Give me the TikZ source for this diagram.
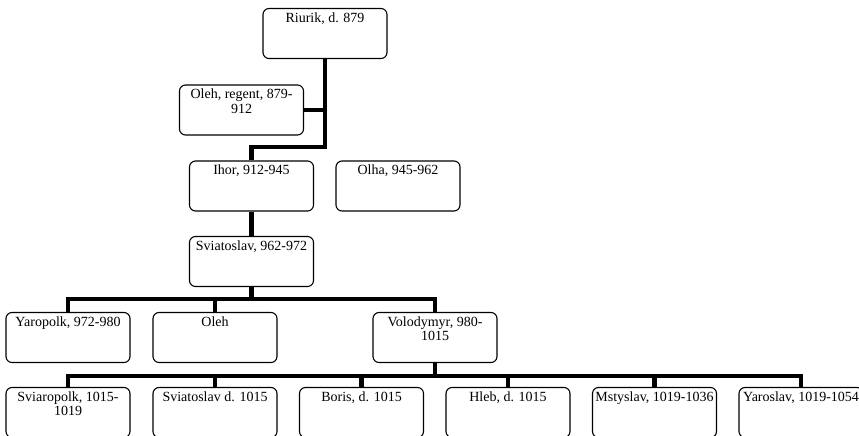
\documentclass[tikz,border=0pt]{standalone}
\usepackage{fontspec}
\setmainfont{Liberation Serif}
\begin{document}
\begin{tikzpicture}[x=1pt,y=-1pt,
  box/.style={draw, line width=1.1pt, rounded corners=6pt, inner sep=0pt},
  conn/.style={line width=4.5pt, line join=miter}]
\newcommand{\bx}[1]{\parbox[c][50pt][t]{124pt}{\centering\fontsize{14}{14.5}\selectfont\vspace*{3.5pt}\strut#1}}
\useasboundingbox (0,0) rectangle (859,436);
\node[box] (riurik) at (325,33.5) {\bx{Riurik, d. 879}};
\node[box] (olehr) at (241.5,110) {\bx{Oleh, regent, 879-\\912}};
\node[box] (ihor) at (251.5,186) {\bx{Ihor, 912-945}};
\node[box] (olha) at (398,186) {\bx{Olha, 945-962}};
\node[box] (sviat) at (251.5,261.5) {\bx{Sviatoslav, 962-972}};
\node[box] (yaro) at (68,337.5) {\bx{Yaropolk, 972-980}};
\node[box] (oleh) at (215,337.5) {\bx{Oleh}};
\node[box] (vol) at (435,337.5) {\bx{Volodymyr, 980-\\1015}};
\node[box] (sviar) at (68,412.5) {\bx{Sviaropolk, 1015-\\1019}};
\node[box] (sviad) at (215,412.5) {\bx{Sviatoslav d. 1015}};
\node[box] (boris) at (361.5,412.5) {\bx{Boris, d. 1015}};
\node[box] (hleb) at (508,412.5) {\bx{Hleb, d. 1015}};
\node[box] (msty) at (654.5,412.5) {\bx{Mstyslav, 1019-1036}};
\node[box] (yaros) at (801,412.5) {\bx{Yaroslav, 1019-1054}};
\coordinate (bus0) at (325,147);
\coordinate (bus1) at (0,299);
\coordinate (bus2) at (0,376);
\draw[conn] (riurik.south) -- (bus0) -| (ihor.north);
\draw[conn] (olehr.east) -- (olehr.east -| riurik.south);
\draw[conn] (ihor.south) -- (sviat.north);
\draw[conn] (yaro.north) -- (yaro.north |- bus1) -- (vol.north |- bus1) -- (vol.north);
\draw[conn] (sviat.south) -- (sviat.south |- bus1);
\draw[conn] (oleh.north) -- (oleh.north |- bus1);
\draw[conn] (sviar.north) -- (sviar.north |- bus2) -- (yaros.north |- bus2) -- (yaros.north);
\draw[conn] (vol.south) -- (vol.south |- bus2);
\draw[conn] (sviad.north) -- (sviad.north |- bus2);
\draw[conn] (boris.north) -- (boris.north |- bus2);
\draw[conn] (hleb.north) -- (hleb.north |- bus2);
\draw[conn] (msty.north) -- (msty.north |- bus2);
\end{tikzpicture}
\end{document}
